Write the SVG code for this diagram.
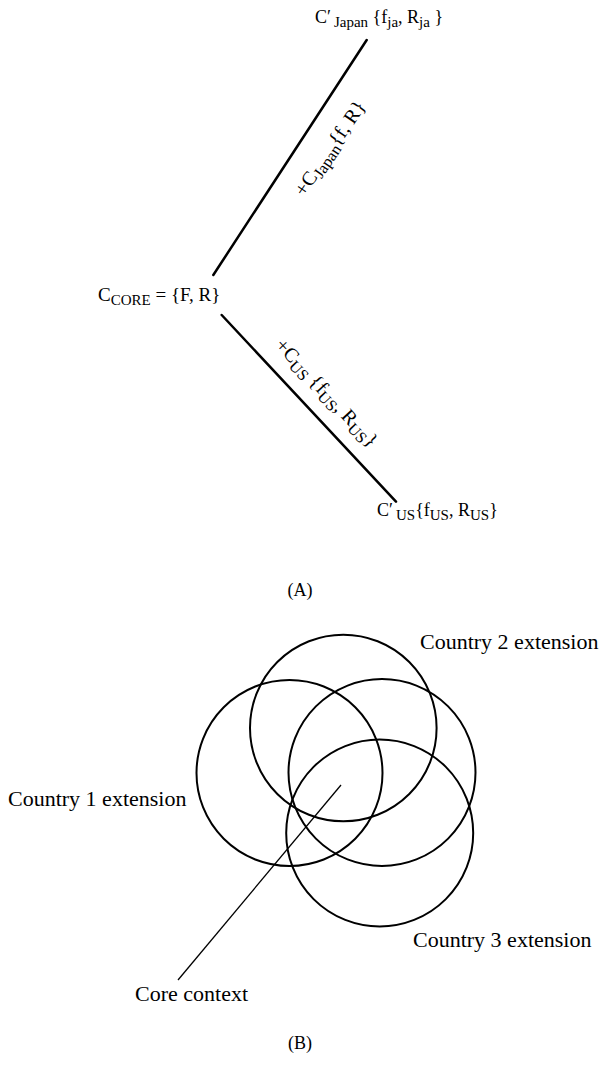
<svg xmlns="http://www.w3.org/2000/svg" width="600" height="1065" viewBox="0 0 600 1065">
<style>
text{font-family:"Liberation Serif","Times New Roman",serif;fill:#000}
.a{font-size:18px}
.c{font-size:19px}
.r{font-size:20px}
.b{font-size:22px}
.s{font-size:15px}
.rs{font-size:16px}
.conn{stroke:#000;stroke-width:2.5;fill:none;stroke-linecap:round}
.ring{stroke:#000;stroke-width:2;fill:none}
.lead{stroke:#000;stroke-width:1.3;fill:none}
</style>
<rect width="600" height="1065" fill="#fff"/>
<g id="connectors">
<line class="conn" x1="213.3" y1="275" x2="366.7" y2="40"/>
<line class="conn" x1="221.7" y1="315" x2="396" y2="501.7"/>
<line class="lead" x1="341" y1="785" x2="178" y2="980"/>
<text class="r" transform="translate(304.3,197.4) rotate(-55.8)">+C<tspan class="rs" dy="4">Japan</tspan><tspan dy="-4">{f, R}</tspan></text>
<text class="r" transform="translate(274.2,346) rotate(47)">+C<tspan class="rs" dy="4">US</tspan><tspan dy="-4"> {f</tspan><tspan class="rs" dy="4">US</tspan><tspan dy="-4">, R</tspan><tspan class="rs" dy="4">US</tspan><tspan dy="-4">}</tspan></text>
</g>
<g id="node-japan">
<text class="a" x="315" y="23">C′<tspan class="s" dx="3" dy="4">Japan</tspan><tspan dy="-4"> {f</tspan><tspan class="s" dy="4">ja</tspan><tspan dy="-4">, R</tspan><tspan class="s" dy="4">ja</tspan><tspan dy="-4"> }</tspan></text>
</g>
<g id="node-core">
<text class="c" x="98" y="301">C<tspan class="s" dy="4">CORE</tspan><tspan dy="-4"> = {F, R}</tspan></text>
</g>
<g id="node-us">
<text class="a" x="377" y="516">C′<tspan class="s" dx="3" dy="4">US</tspan><tspan dy="-4">{f</tspan><tspan class="s" dy="4">US</tspan><tspan dy="-4">, R</tspan><tspan class="s" dy="4">US</tspan><tspan dy="-4">}</tspan></text>
</g>
<text class="a" x="300" y="596" text-anchor="middle">(A)</text>
<g id="circle-country1"><circle class="ring" cx="289.5" cy="773" r="93"/></g>
<g id="circle-country2"><circle class="ring" cx="343.3" cy="728" r="93.3"/></g>
<g id="circle-core"><circle class="ring" cx="382" cy="772.5" r="93.5"/></g>
<g id="circle-country3"><circle class="ring" cx="379.7" cy="833" r="93.5"/></g>
<g id="label-country2"><text class="b" x="420" y="649">Country 2 extension</text></g>
<g id="label-country1"><text class="b" x="8" y="806">Country 1 extension</text></g>
<g id="label-country3"><text class="b" x="413" y="947">Country 3 extension</text></g>
<g id="label-core"><text class="b" x="135" y="1001">Core context</text></g>
<text class="a" x="300" y="1049" text-anchor="middle">(B)</text>
</svg>
